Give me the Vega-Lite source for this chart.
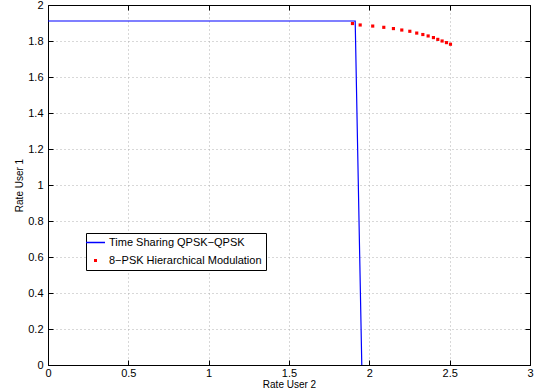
{
  "$schema": "https://vega.github.io/schema/vega-lite/v6.json",
  "autosize": "none",
  "width": 482,
  "height": 360,
  "padding": {"left": 48, "top": 5, "right": 6, "bottom": 27},
  "background": "white",
  "config": {
    "font": "Liberation Sans",
    "view": {"stroke": "black", "strokeWidth": 1},
    "axis": {
      "labelFont": "Liberation Sans", "titleFont": "Liberation Sans",
      "labelFontSize": 11, "titleFontSize": 10, "titleFontWeight": "normal",
      "labelColor": "black", "titleColor": "black",
      "domainColor": "black", "tickColor": "black",
      "gridColor": "#b0b0b0", "gridDash": [1, 3], "gridOpacity": 1
    }
  },
  "datasets": {
    "ts": [
      {"x": 0, "y": 1.911, "series": "Time Sharing QPSK−QPSK", "o": 1},
      {"x": 1.912, "y": 1.911, "series": "Time Sharing QPSK−QPSK", "o": 2},
      {"x": 1.953, "y": 0, "series": "Time Sharing QPSK−QPSK", "o": 3}
    ],
    "psk": [
      {"x": 1.895, "y": 1.897, "series": "8−PSK Hierarchical Modulation"},
      {"x": 1.943, "y": 1.889, "series": "8−PSK Hierarchical Modulation"},
      {"x": 2.021, "y": 1.883, "series": "8−PSK Hierarchical Modulation"},
      {"x": 2.090, "y": 1.876, "series": "8−PSK Hierarchical Modulation"},
      {"x": 2.150, "y": 1.869, "series": "8−PSK Hierarchical Modulation"},
      {"x": 2.202, "y": 1.861, "series": "8−PSK Hierarchical Modulation"},
      {"x": 2.252, "y": 1.854, "series": "8−PSK Hierarchical Modulation"},
      {"x": 2.295, "y": 1.844, "series": "8−PSK Hierarchical Modulation"},
      {"x": 2.333, "y": 1.836, "series": "8−PSK Hierarchical Modulation"},
      {"x": 2.366, "y": 1.828, "series": "8−PSK Hierarchical Modulation"},
      {"x": 2.399, "y": 1.819, "series": "8−PSK Hierarchical Modulation"},
      {"x": 2.426, "y": 1.809, "series": "8−PSK Hierarchical Modulation"},
      {"x": 2.453, "y": 1.800, "series": "8−PSK Hierarchical Modulation"},
      {"x": 2.480, "y": 1.791, "series": "8−PSK Hierarchical Modulation"},
      {"x": 2.505, "y": 1.782, "series": "8−PSK Hierarchical Modulation"}
    ]
  },
  "resolve": {"axis": {"x": "independent", "y": "independent"}},
  "layer": [
    {
      "data": {"name": "ts"},
      "mark": {"type": "line", "strokeWidth": 1.2, "clip": true},
      "encoding": {
        "x": {"field": "x", "type": "quantitative", "scale": {"domain": [0, 3], "nice": false},
          "axis": {"title": "Rate User 2", "values": [0, 0.5, 1, 1.5, 2, 2.5, 3], "format": ".1~f", "tickSize": -5, "labelPadding": 7, "titlePadding": 1, "grid": true, "labelFlush": false}},
        "y": {"field": "y", "type": "quantitative", "scale": {"domain": [0, 2], "nice": false},
          "axis": {"title": "Rate User 1", "values": [0, 0.2, 0.4, 0.6, 0.8, 1, 1.2, 1.4, 1.6, 1.8, 2], "format": ".1~f", "tickSize": -5, "labelPadding": 10, "titlePadding": 3, "grid": true, "labelFlush": false}},
        "order": {"field": "o"},
        "color": {"field": "series", "type": "nominal",
          "scale": {"domain": ["Time Sharing QPSK−QPSK", "8−PSK Hierarchical Modulation"], "range": ["#0000ff", "#ff0000"]},
          "legend": {
            "orient": "none", "legendX": 38, "legendY": 228, "title": null,
            "labelFont": "Liberation Sans", "labelFontSize": 11, "labelColor": "black",
            "labelExpr": "datum.label + '\u00a0\u00a0\u00a0\u00a0\u00a0'",
            "strokeColor": "black", "fillColor": "white", "padding": 4, "rowPadding": 6, "labelOffset": 8,
            "symbolOffset": 0,
            "symbolSize": 361, "symbolStrokeWidth": 1.5,
            "encode": {
              "symbols": {"update": {
                "shape": {"signal": "datum.value == 'Time Sharing QPSK−QPSK' ? 'stroke' : 'square'"},
                "size": {"signal": "datum.value == 'Time Sharing QPSK−QPSK' ? 361 : 9"},
                "stroke": {"scale": "color", "field": "value"},
                "fill": {"scale": "color", "field": "value"},
                "strokeWidth": {"signal": "datum.value == 'Time Sharing QPSK−QPSK' ? 1.5 : 0"},
                "opacity": {"value": 1}
              }}
            }
          }}
      }
    },
    {
      "data": {"name": "psk"},
      "mark": {"type": "point", "shape": "square", "filled": true, "size": 10, "opacity": 1},
      "encoding": {
        "x": {"field": "x", "type": "quantitative", "scale": {"domain": [0, 3], "nice": false},
          "axis": {"orient": "top", "values": [0, 0.5, 1, 1.5, 2, 2.5, 3], "tickSize": -5, "labels": false, "title": null, "grid": false}},
        "y": {"field": "y", "type": "quantitative", "scale": {"domain": [0, 2], "nice": false},
          "axis": {"orient": "right", "values": [0, 0.2, 0.4, 0.6, 0.8, 1, 1.2, 1.4, 1.6, 1.8, 2], "tickSize": -5, "labels": false, "title": null, "grid": false}},
        "color": {"field": "series", "type": "nominal",
          "scale": {"domain": ["Time Sharing QPSK−QPSK", "8−PSK Hierarchical Modulation"], "range": ["#0000ff", "#ff0000"]}}
      }
    }
  ]
}
